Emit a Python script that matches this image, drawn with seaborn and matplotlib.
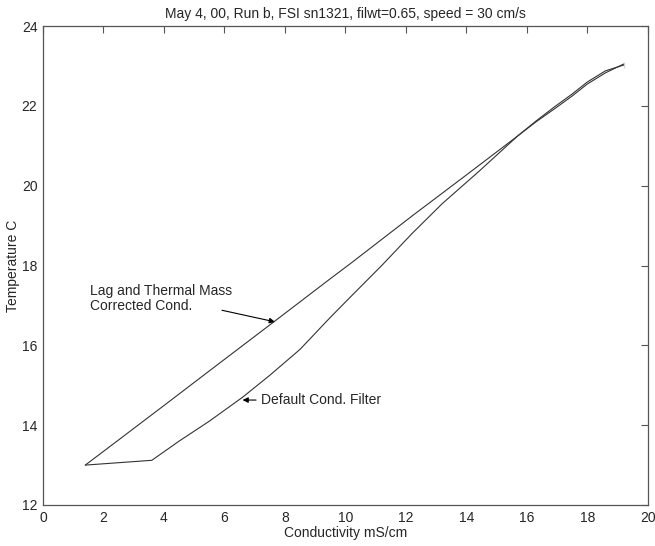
import matplotlib
matplotlib.use("Agg")
import matplotlib.pyplot as plt
import seaborn as sns
import pandas as pd

# conductivity (mS/cm) vs temperature (C)
corr_cond = [1.4, 2.5, 4.1, 5.5, 7.6, 9.5, 10.15, 12.2, 14.0, 15.7, 16.3, 16.9, 17.5, 18.0, 18.6, 19.2, 19.2]
corr_temp = [13.0, 13.63, 14.55, 15.36, 16.57, 17.67, 18.04, 19.24, 20.27, 21.25, 21.62, 21.97, 22.3, 22.6, 22.88, 23.1, 22.95]

dflt_cond = [1.4, 3.6, 4.5, 5.5, 6.6, 7.5, 8.5, 9.5, 10.15, 11.2, 12.2, 13.2, 14.4, 15.7,
             16.3, 16.9, 17.5, 18.0, 18.6, 19.2]
dflt_temp = [13.0, 13.12, 13.6, 14.1, 14.7, 15.25, 15.9, 16.7, 17.2, 18.0, 18.8, 19.55, 20.35, 21.25,
             21.6, 21.92, 22.25, 22.55, 22.83, 23.05]

title = "May 4, 00, Run b, FSI sn1321, filwt=0.65, speed = 30 cm/s"

sns.set_style("white")
plt.rcParams["font.family"] = ["Liberation Sans", "DejaVu Sans"]

df_corr = pd.DataFrame({"cond": corr_cond, "temp": corr_temp})
df_dflt = pd.DataFrame({"cond": dflt_cond, "temp": dflt_temp})

fig = plt.figure(figsize=(6.55, 5.46), dpi=100)
ax = fig.add_axes([0.0656, 0.0751, 0.9234, 0.877])

sns.lineplot(data=df_corr, x="cond", y="temp", sort=False, color="#333333", lw=0.8, ax=ax)
sns.lineplot(data=df_dflt, x="cond", y="temp", sort=False, color="#333333", lw=0.8, ax=ax)

ax.set_xlim(0, 20)
ax.set_ylim(12, 24)
ax.set_xticks(range(0, 21, 2))
ax.set_yticks(range(12, 25, 2))
ax.tick_params(direction="in", length=5, top=True, right=True, labelsize=10,
               color="#555555", pad=4)
for s in ax.spines.values():
    s.set_color("#555555")
    s.set_linewidth(0.9)

ax.set_xlabel("Conductivity mS/cm", fontsize=10, labelpad=1)
ax.set_ylabel("Temperature C", fontsize=10, labelpad=1)
ax.set_title(title, fontsize=10, pad=6)

ax.text(1.55, 16.8, "Lag and Thermal Mass\nCorrected Cond.", fontsize=10,
        va="bottom", ha="left", linespacing=1.15)
ax.annotate("", xy=(7.67, 16.59), xytext=(5.92, 16.88),
            arrowprops=dict(arrowstyle="-|>", color="black", lw=0.8, mutation_scale=8,
                            shrinkA=0, shrinkB=0))
ax.annotate("Default Cond. Filter", xy=(6.6, 14.63), xytext=(7.2, 14.63),
            fontsize=10, va="center", ha="left",
            arrowprops=dict(arrowstyle="-|>", color="black", lw=0.8, mutation_scale=8,
                            shrinkA=1, shrinkB=0))

fig.savefig("out.png", dpi=100)
